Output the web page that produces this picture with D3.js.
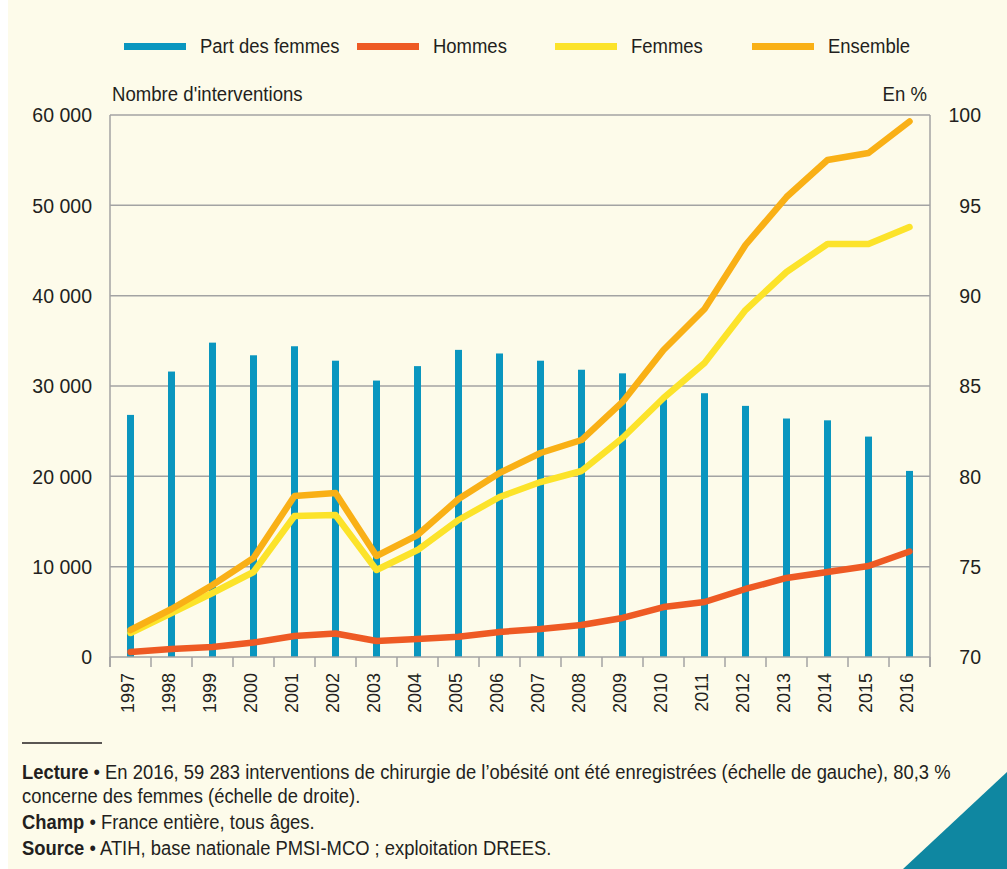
<!DOCTYPE html>
<html><head><meta charset="utf-8">
<script src="https://cdn.jsdelivr.net/npm/d3@7"></script>
<style>
html,body{margin:0;padding:0;background:#FDFBEA;}
svg{display:block;}
text{fill:#231F20;}
</style></head>
<body>
<svg id="chart" width="1007" height="869"></svg>
<script>
const years = [1997,1998,1999,2000,2001,2002,2003,2004,2005,2006,2007,2008,2009,2010,2011,2012,2013,2014,2015,2016];
const partFemmes = [83.4,85.8,87.4,86.7,87.2,86.4,85.3,86.1,87.0,86.8,86.4,85.9,85.7,84.3,84.6,83.9,83.2,83.1,82.2,80.3];
const hommes = [550,890,1110,1600,2330,2600,1770,1990,2250,2770,3100,3540,4320,5530,6090,7530,8750,9410,10070,11680];
const femmes = [2660,4870,7085,9410,15610,15720,9630,11840,15170,17710,19370,20590,24240,28670,32550,38410,42620,45720,45720,47600];
const ensemble = [2990,5313,7970,10960,17820,18150,11180,13500,17490,20370,22580,24020,28230,33990,38520,45610,50920,55020,55790,59283];
const leftTicks = [0,10000,20000,30000,40000,50000,60000];
const rightTicks = [70,75,80,85,90,95,100];
const legendLabels = ["Part des femmes","Hommes","Femmes","Ensemble"];

const colBar = "#0A96BF", colH = "#EE5A24", colF = "#FCE32A", colE = "#F9B016";
const sans = "'Liberation Sans',Arial,Helvetica,sans-serif";
const svg = d3.select("#chart");

svg.append("rect").attr("x",0).attr("y",0).attr("width",8).attr("height",869).attr("fill","#ffffff");
svg.append("path").attr("d","M903,869 L1007,772 L1007,869 Z").attr("fill","#0F87A1");

const L = 110, R = 930, T = 115, B = 657;
const x = d3.scaleBand().domain(years).range([L,R]).padding(0);
const yL = d3.scaleLinear().domain([0,60000]).range([B,T]);
const yR = d3.scaleLinear().domain([70,100]).range([B,T]);
const fmt = v => d3.format(",")(v).replace(/,/g," ");

// condensed text helper
function ctext(g, xx, yy, size, sx, anchor, parts){
  const t = g.append("g").attr("transform",`translate(${xx},${yy}) scale(${sx},1)`)
    .append("text").attr("font-family",sans).attr("font-size",size).attr("text-anchor",anchor||"start");
  parts.forEach(([s,b])=>t.append("tspan").attr("font-weight",b?"bold":"normal").text(s));
  return t;
}

// gridlines
svg.append("g").selectAll("line").data(leftTicks.filter(d=>d>0)).join("line")
  .attr("x1",L).attr("x2",R).attr("y1",d=>yL(d)).attr("y2",d=>yL(d))
  .attr("stroke","#A3A3A3").attr("stroke-width",1.5);

// left axis labels
const gl = svg.append("g").attr("transform",`translate(${L},0)`)
  .call(d3.axisLeft(yL).tickValues(leftTicks).tickFormat(fmt).tickSize(0).tickPadding(18));
gl.select(".domain").remove();
gl.selectAll("text").attr("font-family",sans).attr("font-size",19.5).attr("fill","#231F20").attr("dy","0.35em");

const gr = svg.append("g").attr("transform",`translate(${R},0)`)
  .call(d3.axisRight(yR).tickValues(rightTicks).tickSize(0).tickPadding(51));
gr.select(".domain").remove();
gr.selectAll("text").attr("font-family",sans).attr("font-size",19.5).attr("fill","#231F20").attr("text-anchor","end").attr("dy","0.35em");

// frame verticals
svg.append("line").attr("x1",L).attr("x2",L).attr("y1",T).attr("y2",B+10).attr("stroke","#A3A3A3").attr("stroke-width",1.5);
svg.append("line").attr("x1",R).attr("x2",R).attr("y1",T).attr("y2",B+10).attr("stroke","#A3A3A3").attr("stroke-width",1.5);

// bars
svg.append("g").selectAll("rect").data(years).join("rect")
  .attr("x",(d)=>x(d)+x.bandwidth()/2-3.5).attr("width",7)
  .attr("y",(d,i)=>yR(partFemmes[i])).attr("height",(d,i)=>yR(70)-yR(partFemmes[i]))
  .attr("fill",colBar);

// x axis
svg.append("line").attr("x1",L).attr("x2",R).attr("y1",B).attr("y2",B).attr("stroke","#A3A3A3").attr("stroke-width",1.5);
svg.append("g").selectAll("line").data(years.concat(["end"])).join("line")
  .attr("x1",d=>d==="end"?R:x(d)).attr("x2",d=>d==="end"?R:x(d))
  .attr("y1",B).attr("y2",B+10).attr("stroke","#A3A3A3").attr("stroke-width",1.5);
svg.append("g").selectAll("text").data(years).join("text")
  .attr("transform",d=>`translate(${x(d)+x.bandwidth()/2+3},${B+16}) rotate(-90)`)
  .attr("text-anchor","end").attr("font-family",sans).attr("font-size",18)
  .text(d=>d);

// lines
const line = d3.line().x((d,i)=>x(years[i])+x.bandwidth()/2).y(d=>yL(d));
[[hommes,colH],[femmes,colF],[ensemble,colE]].forEach(([data,c])=>{
  svg.append("path").datum(data).attr("d",line).attr("fill","none").attr("stroke",c)
    .attr("stroke-width",6.5).attr("stroke-linejoin","round").attr("stroke-linecap","round");
});

// legend
const legX = [124,357,555,752];
const legC = [colBar,colH,colF,colE];
legendLabels.forEach((lab,i)=>{
  svg.append("rect").attr("x",legX[i]).attr("y",43).attr("width",62).attr("height",7).attr("fill",legC[i]);
  ctext(svg, legX[i]+76, 53, 21, 0.88, "start", [[lab,false]]);
});

ctext(svg, 112, 101, 21, 0.886, "start", [["Nombre d'interventions",false]]);
ctext(svg, 927, 101, 21, 0.886, "end", [["En %",false]]);

// footnote
svg.append("line").attr("x1",22).attr("x2",102).attr("y1",743).attr("y2",743).attr("stroke","#231F20").attr("stroke-width",1.5);
const notes = [
  [["Lecture",true],[" • En 2016, 59 283 interventions de chirurgie de l’obésité ont été enregistrées (échelle de gauche), 80,3 %",false]],
  [["concerne des femmes (échelle de droite).",false]],
  [["Champ",true],[" • France entière, tous âges.",false]],
  [["Source",true],[" • ATIH, base nationale PMSI-MCO ; exploitation DREES.",false]]
];
const noteY = [779,803,829,855];
notes.forEach((parts,i)=>{ ctext(svg, 22, noteY[i], 21, 0.876, "start", parts); });
</script>
</body></html>
